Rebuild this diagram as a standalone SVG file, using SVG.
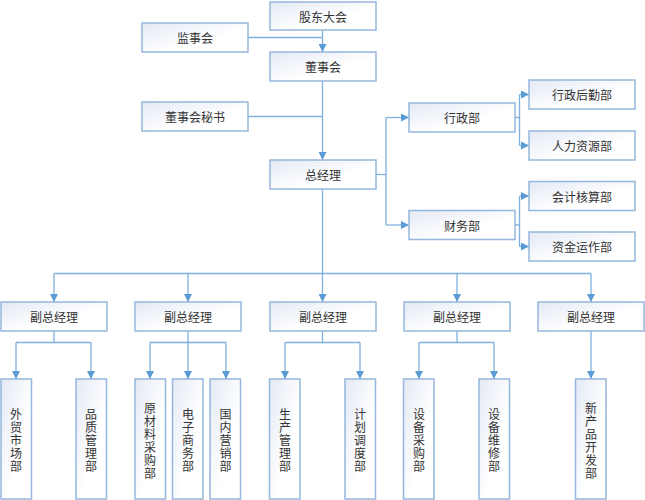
<svg xmlns="http://www.w3.org/2000/svg" width="645" height="500" viewBox="0 0 645 500">
<defs>
<linearGradient id="g" x1="0" y1="0" x2="1" y2="1">
<stop offset="0" stop-color="#e3e9f4"/>
<stop offset="0.6" stop-color="#ffffff"/>
<stop offset="1" stop-color="#ffffff"/>
</linearGradient>
<marker id="a" viewBox="0 0 10 10" refX="10" refY="5" markerWidth="8" markerHeight="8" markerUnits="userSpaceOnUse" orient="auto">
<path d="M0,0 L10,5 L0,10 Z" fill="#5b9bd5"/>
</marker>
<style>
.b{fill:url(#g);stroke:#95b7dd;stroke-width:1.5}
.t{font-family:"Noto Sans CJK SC","Liberation Sans",sans-serif;font-size:12px;fill:#333;text-anchor:middle;dominant-baseline:central}
.c{fill:none;stroke:#7fb0e0;stroke-width:1.3}
.ar{marker-end:url(#a)}
</style>
</defs>
<g id="connectors">
<path class="c ar" d="M322.5,30 V52"/>
<path class="c" d="M248,37.5 H322.5"/>
<path class="c ar" d="M322.5,81 V160"/>
<path class="c" d="M248,116.5 H322.5"/>
<path class="c" d="M375,174.5 H386"/>
<path class="c" d="M386,117.5 V225"/>
<path class="c ar" d="M386,117.5 H409"/>
<path class="c ar" d="M386,225 H409"/>
<path class="c" d="M515,117.5 H519.5 M519.5,94.5 V145.5 M515,225 H519.5 M519.5,196 V246.5"/>
<path class="c ar" d="M519.5,94.5 H529"/>
<path class="c ar" d="M519.5,145.5 H529"/>
<path class="c ar" d="M519.5,196 H529"/>
<path class="c ar" d="M519.5,246.5 H529"/>
<path class="c" d="M322.5,189 V273.5 M54,273.5 H591"/>
<path class="c ar" d="M54,273.5 V302"/>
<path class="c ar" d="M188,273.5 V302"/>
<path class="c ar" d="M322.5,273.5 V302"/>
<path class="c ar" d="M457,273.5 V302"/>
<path class="c ar" d="M591,273.5 V302"/>
<path class="c" d="M54,331 V342.5 M16,342.5 H91 M188,331 V342.5 M150,342.5 H226 M322.5,331 V342.5 M285,342.5 H360 M457,331 V342.5 M419,342.5 H494"/>
<path class="c ar" d="M16,342.5 V379"/>
<path class="c ar" d="M91,342.5 V379"/>
<path class="c ar" d="M150,342.5 V379"/>
<path class="c ar" d="M188,342.5 V379"/>
<path class="c ar" d="M226,342.5 V379"/>
<path class="c ar" d="M285,342.5 V379"/>
<path class="c ar" d="M360,342.5 V379"/>
<path class="c ar" d="M419,342.5 V379"/>
<path class="c ar" d="M494,342.5 V379"/>
<path class="c ar" d="M591,331 V379"/>
</g>
<g id="n1"><rect class="b" x="270" y="2" width="106" height="28"/><text class="t" x="323" y="16">股东大会</text></g>
<g id="n2"><rect class="b" x="142" y="23" width="106" height="29"/><text class="t" x="195" y="37.5">监事会</text></g>
<g id="n3"><rect class="b" x="270" y="52" width="106" height="29"/><text class="t" x="323" y="66.5">董事会</text></g>
<g id="n4"><rect class="b" x="142" y="102" width="106" height="29"/><text class="t" x="195" y="116.5">董事会秘书</text></g>
<g id="n5"><rect class="b" x="270" y="160" width="106" height="29"/><text class="t" x="323" y="174.5">总经理</text></g>
<g id="n6"><rect class="b" x="409" y="103" width="106" height="29"/><text class="t" x="462" y="117.5">行政部</text></g>
<g id="n7"><rect class="b" x="409" y="210.5" width="106" height="29"/><text class="t" x="462" y="225">财务部</text></g>
<g id="n8"><rect class="b" x="529" y="80" width="106" height="29"/><text class="t" x="582" y="94.5">行政后勤部</text></g>
<g id="n9"><rect class="b" x="529" y="131" width="106" height="29"/><text class="t" x="582" y="145.5">人力资源部</text></g>
<g id="n10"><rect class="b" x="529" y="181.5" width="106" height="29"/><text class="t" x="582" y="196">会计核算部</text></g>
<g id="n11"><rect class="b" x="529" y="232" width="106" height="29"/><text class="t" x="582" y="246.5">资金运作部</text></g>
<g id="n12"><rect class="b" x="1" y="302" width="106" height="29"/><text class="t" x="54" y="316.5">副总经理</text></g>
<g id="n13"><rect class="b" x="135" y="302" width="106" height="29"/><text class="t" x="188" y="316.5">副总经理</text></g>
<g id="n14"><rect class="b" x="270" y="302" width="106" height="29"/><text class="t" x="323" y="316.5">副总经理</text></g>
<g id="n15"><rect class="b" x="404" y="302" width="106" height="29"/><text class="t" x="457" y="316.5">副总经理</text></g>
<g id="n16"><rect class="b" x="538" y="302" width="106" height="29"/><text class="t" x="591" y="316.5">副总经理</text></g>
<g id="n17"><rect class="b" x="1" y="379" width="30.5" height="120"/><text class="t" x="16" y="413"><tspan x="16">外</tspan><tspan x="16" dy="13">贸</tspan><tspan x="16" dy="13">市</tspan><tspan x="16" dy="13">场</tspan><tspan x="16" dy="13">部</tspan></text></g>
<g id="n18"><rect class="b" x="76" y="379" width="30.5" height="120"/><text class="t" x="91" y="413"><tspan x="91">品</tspan><tspan x="91" dy="13">质</tspan><tspan x="91" dy="13">管</tspan><tspan x="91" dy="13">理</tspan><tspan x="91" dy="13">部</tspan></text></g>
<g id="n19"><rect class="b" x="135" y="379" width="30.5" height="120"/><text class="t" x="150" y="406.5"><tspan x="150">原</tspan><tspan x="150" dy="13">材</tspan><tspan x="150" dy="13">料</tspan><tspan x="150" dy="13">采</tspan><tspan x="150" dy="13">购</tspan><tspan x="150" dy="13">部</tspan></text></g>
<g id="n20"><rect class="b" x="172.5" y="379" width="30.5" height="120"/><text class="t" x="188" y="413"><tspan x="188">电</tspan><tspan x="188" dy="13">子</tspan><tspan x="188" dy="13">商</tspan><tspan x="188" dy="13">务</tspan><tspan x="188" dy="13">部</tspan></text></g>
<g id="n21"><rect class="b" x="210" y="379" width="30.5" height="120"/><text class="t" x="225.5" y="413"><tspan x="225.5">国</tspan><tspan x="225.5" dy="13">内</tspan><tspan x="225.5" dy="13">营</tspan><tspan x="225.5" dy="13">销</tspan><tspan x="225.5" dy="13">部</tspan></text></g>
<g id="n22"><rect class="b" x="269.5" y="379" width="30.5" height="120"/><text class="t" x="285" y="413"><tspan x="285">生</tspan><tspan x="285" dy="13">产</tspan><tspan x="285" dy="13">管</tspan><tspan x="285" dy="13">理</tspan><tspan x="285" dy="13">部</tspan></text></g>
<g id="n23"><rect class="b" x="345" y="379" width="30.5" height="120"/><text class="t" x="360" y="413"><tspan x="360">计</tspan><tspan x="360" dy="13">划</tspan><tspan x="360" dy="13">调</tspan><tspan x="360" dy="13">度</tspan><tspan x="360" dy="13">部</tspan></text></g>
<g id="n24"><rect class="b" x="403.5" y="379" width="30.5" height="120"/><text class="t" x="419" y="413"><tspan x="419">设</tspan><tspan x="419" dy="13">备</tspan><tspan x="419" dy="13">采</tspan><tspan x="419" dy="13">购</tspan><tspan x="419" dy="13">部</tspan></text></g>
<g id="n25"><rect class="b" x="479" y="379" width="30.5" height="120"/><text class="t" x="494" y="413"><tspan x="494">设</tspan><tspan x="494" dy="13">备</tspan><tspan x="494" dy="13">维</tspan><tspan x="494" dy="13">修</tspan><tspan x="494" dy="13">部</tspan></text></g>
<g id="n26"><rect class="b" x="575.5" y="379" width="30.5" height="120"/><text class="t" x="591" y="406.5"><tspan x="591">新</tspan><tspan x="591" dy="13">产</tspan><tspan x="591" dy="13">品</tspan><tspan x="591" dy="13">开</tspan><tspan x="591" dy="13">发</tspan><tspan x="591" dy="13">部</tspan></text></g>
</svg>
